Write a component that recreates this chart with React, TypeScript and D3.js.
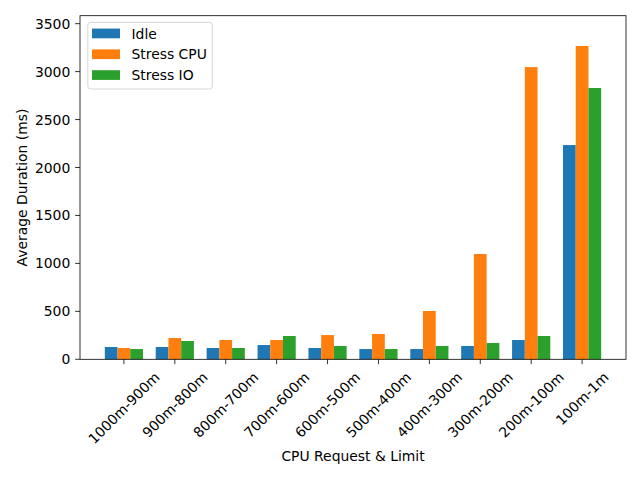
import React, { useEffect, useRef } from "react";
import * as d3 from "d3";

const categories = [
  "1000m-900m",
  "900m-800m",
  "800m-700m",
  "700m-600m",
  "600m-500m",
  "500m-400m",
  "400m-300m",
  "300m-200m",
  "200m-100m",
  "100m-1m"
];

const idle = [128, 128, 118, 149, 118, 107, 107, 139, 201, 2234];
const stressCpu = [118, 222, 201, 201, 253, 264, 504, 1098, 3047, 3267];
const stressIo = [107, 191, 118, 243, 139, 107, 139, 170, 243, 2829];

const seriesNames = ["Idle", "Stress CPU", "Stress IO"];
const seriesColors = ["#1f77b4", "#ff7f0e", "#2ca02c"];
const yTicks = [0, 500, 1000, 1500, 2000, 2500, 3000, 3500];

const width = 640;
const height = 480;
const margin = { left: 80, right: 14, top: 15.7, bottom: 120.7 };
const font = "'DejaVu Sans', sans-serif";
const fontSize = 13.9;
const barWidth = 0.25;

const App = () => {
  const svgRef = useRef<SVGSVGElement | null>(null);

  useEffect(() => {
    const svg = d3.select(svgRef.current);
    svg.selectAll("*").remove();

    const x0 = margin.left;
    const x1 = width - margin.right;
    const y0 = height - margin.bottom;
    const y1 = margin.top;

    const x = d3.scaleLinear().domain([-0.8625, 9.8625]).range([x0, x1]);
    const y = d3.scaleLinear().domain([0, 3583]).range([y0, y1]);

    const series = [idle, stressCpu, stressIo];

    // bars
    series.forEach((values, s) => {
      svg
        .append("g")
        .selectAll("rect")
        .data(values)
        .enter()
        .append("rect")
        .attr("x", (d, i) => x(i + (s - 1) * barWidth - barWidth / 2))
        .attr("width", x(barWidth) - x(0))
        .attr("y", (d) => y(d))
        .attr("height", (d) => y(0) - y(d))
        .attr("fill", seriesColors[s]);
    });

    // spines
    svg
      .append("rect")
      .attr("x", x0)
      .attr("y", y1)
      .attr("width", x1 - x0)
      .attr("height", y0 - y1)
      .attr("fill", "none")
      .attr("stroke", "#000")
      .attr("stroke-width", 0.8);

    const tickLen = 4.86;
    const pad = 4.86;

    // y ticks
    const yg = svg.append("g");
    yTicks.forEach((t) => {
      yg.append("line")
        .attr("x1", x0 - tickLen)
        .attr("x2", x0)
        .attr("y1", y(t))
        .attr("y2", y(t))
        .attr("stroke", "#000")
        .attr("stroke-width", 0.8);
      yg.append("text")
        .attr("x", x0 - tickLen - pad)
        .attr("y", y(t))
        .attr("text-anchor", "end")
        .attr("dominant-baseline", "central")
        .style("font-family", font)
        .style("font-size", `${fontSize}px`)
        .style("fill", "#000")
        .text(t);
    });

    // x ticks + rotated labels
    const xg = svg.append("g");
    categories.forEach((c, i) => {
      xg.append("line")
        .attr("x1", x(i))
        .attr("x2", x(i))
        .attr("y1", y0)
        .attr("y2", y0 + tickLen)
        .attr("stroke", "#000")
        .attr("stroke-width", 0.8);
      const label = xg
        .append("text")
        .attr("text-anchor", "middle")
        .attr("dominant-baseline", "central")
        .style("font-family", font)
        .style("font-size", `${fontSize}px`)
        .style("fill", "#000")
        .text(c);
      const w = (label.node() as SVGTextElement).getComputedTextLength();
      const h = 16;
      const half = (w + h) / (2 * Math.SQRT2);
      label.attr(
        "transform",
        `translate(${x(i)},${y0 + tickLen + pad + half}) rotate(-45)`
      );
    });

    // axis titles
    svg
      .append("text")
      .attr("x", (x0 + x1) / 2)
      .attr("y", 460.5)
      .attr("text-anchor", "middle")
      .style("font-family", font)
      .style("font-size", `${fontSize}px`)
      .text("CPU Request & Limit");

    svg
      .append("text")
      .attr("transform", `translate(26.5,${(y0 + y1) / 2}) rotate(-90)`)
      .attr("text-anchor", "middle")
      .style("font-family", font)
      .style("font-size", `${fontSize}px`)
      .text("Average Duration (ms)");

    // legend
    const lg = svg.append("g");
    lg.append("rect")
      .attr("x", 87.8)
      .attr("y", 22.3)
      .attr("width", 124.5)
      .attr("height", 66.7)
      .attr("rx", 2.8)
      .attr("fill", "#fff")
      .attr("fill-opacity", 0.8)
      .attr("stroke", "#cccccc")
      .attr("stroke-width", 0.8);
    seriesNames.forEach((name, s) => {
      const cy = 33.5 + s * 20.8;
      lg.append("rect")
        .attr("x", 92)
        .attr("y", cy - 4.9)
        .attr("width", 28)
        .attr("height", 9.7)
        .attr("fill", seriesColors[s]);
      lg.append("text")
        .attr("x", 131.5)
        .attr("y", cy)
        .attr("dominant-baseline", "central")
        .style("font-family", font)
        .style("font-size", `${fontSize}px`)
        .text(name);
    });
  }, []);

  return (
    <svg
      ref={svgRef}
      width={width}
      height={height}
      style={{ position: "absolute", left: 0, top: 0, background: "#fff" }}
    ></svg>
  );
};

export default App;
